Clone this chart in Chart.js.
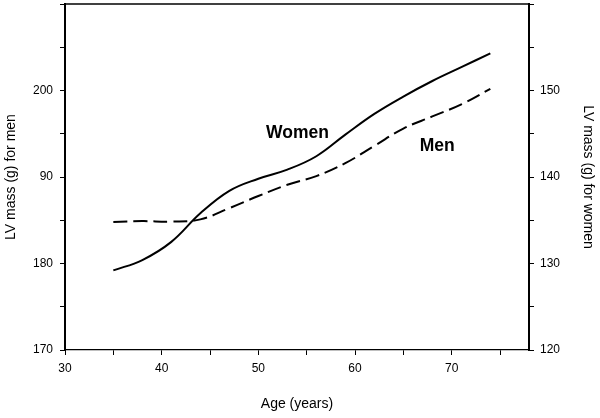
<!DOCTYPE html>
<html><head><meta charset="utf-8">
<script src="https://cdn.jsdelivr.net/npm/chart.js@4.4.1/dist/chart.umd.min.js"></script>
<style>html,body{margin:0;padding:0;background:#fff;} #wrap{width:600px;height:418px;}</style>
</head><body><div id="wrap"><canvas id="c" width="600" height="418"></canvas></div>
<script>
// ---- data ----
const ages = [35, 38, 41, 44, 47, 50, 53, 56, 59, 62, 65, 68, 71, 74];
const womenLV = [129.2, 130.4, 132.5, 135.8, 138.4, 139.8, 140.85, 142.4, 144.9, 147.3, 149.3, 151.1, 152.7, 154.3];
const menLV = [184.8, 184.9, 184.85, 185.1, 186.4, 187.8, 189.1, 190.1, 191.6, 193.6, 195.6, 197.0, 198.4, 200.2];
const xTickValues = [30, 40, 50, 60, 70];
const xTickLabels = ['30', '40', '50', '60', '70'];
const menTickValues = [170, 180, 190, 200];
const menTickLabels = ['170', '180', '90', '200'];
const womenTickValues = [120, 130, 140, 150];
const womenTickLabels = ['120', '130', '140', '150'];
const seriesNames = ['Women', 'Men'];
const noteAges = [50.8, 66.7];
const noteValues = [144.5, 192.95];

const FONT = "'Liberation Sans', Arial, Helvetica, sans-serif";
const INK = '#000';

function labelFrom(values, labels) {
  return v => { const i = values.indexOf(Math.round(v * 1000) / 1000); return i >= 0 ? labels[i] : ''; };
}
function noOverflow(s) { s.paddingTop = 0; s.paddingBottom = 0; s.paddingLeft = 0; s.paddingRight = 0; }

const frameAndNotes = {
  id: 'frameAndNotes',
  afterDatasetsDraw(chart) {
    const {ctx, chartArea, scales} = chart;
    ctx.save();
    ctx.strokeStyle = INK;
    ctx.lineWidth = 1.3;
    ctx.beginPath();
    ctx.moveTo(chartArea.left, chartArea.top);
    ctx.lineTo(chartArea.right, chartArea.top);
    ctx.stroke();
    ctx.fillStyle = INK;
    ctx.font = "bold 17.5px " + FONT;
    ctx.textAlign = 'left';
    ctx.textBaseline = 'alphabetic';
    const axisFor = [scales.yWomen, scales.yMen];
    seriesNames.forEach((name, i) => {
      ctx.fillText(name, scales.x.getPixelForValue(noteAges[i]), axisFor[i].getPixelForValue(noteValues[i]));
    });
    ctx.restore();
  }
};

new Chart(document.getElementById('c'), {
  type: 'line',
  data: {
    datasets: [
      {
        label: seriesNames[0],
        data: ages.map((a, i) => ({x: a, y: womenLV[i]})),
        yAxisID: 'yWomen',
        borderColor: INK, borderWidth: 2, pointRadius: 0, fill: false,
        tension: 0.4
      },
      {
        label: seriesNames[1],
        data: ages.map((a, i) => ({x: a, y: menLV[i]})),
        yAxisID: 'yMen',
        borderColor: INK, borderWidth: 2, pointRadius: 0, fill: false,
        borderDash: [14, 6],
        tension: 0.4
      }
    ]
  },
  options: {
    responsive: false,
    animation: false,
    devicePixelRatio: 1,
    layout: {padding: {top: 4, left: 0, right: 0, bottom: 0}},
    plugins: {legend: {display: false}, tooltip: {enabled: false}},
    scales: {
      x: {
        type: 'linear', position: 'bottom', min: 30, max: 78,
        afterBuildTicks: s => { s.ticks = s.ticks.filter(t => t.value % 5 === 0); },
        afterFit: s => { s.height = 68; noOverflow(s); },
        ticks: {stepSize: 5, autoSkip: false, maxRotation: 0, padding: 6, color: INK,
                font: {family: FONT, size: 12}, callback: labelFrom(xTickValues, xTickLabels)},
        grid: {drawOnChartArea: false, drawTicks: true, tickLength: 5, color: INK, lineWidth: 1},
        border: {display: true, color: INK, width: 1.3},
        title: {display: true, text: 'Age (years)', color: INK, font: {family: FONT, size: 14},
                padding: {top: 0, bottom: 5}}
      },
      yMen: {
        type: 'linear', position: 'left', min: 170, max: 210,
        afterFit: s => { s.width = 65; noOverflow(s); },
        ticks: {stepSize: 5, autoSkip: false, padding: 7, color: INK,
                font: {family: FONT, size: 12}, callback: labelFrom(menTickValues, menTickLabels)},
        grid: {drawOnChartArea: false, drawTicks: true, tickLength: 5, color: INK, lineWidth: 1},
        border: {display: true, color: INK, width: 2},
        title: {display: true, text: 'LV mass (g) for men', color: INK, font: {family: FONT, size: 14},
                padding: {top: 3, bottom: 0}}
      },
      yWomen: {
        type: 'linear', position: 'right', min: 120, max: 160,
        afterFit: s => { s.width = 71; noOverflow(s); },
        ticks: {stepSize: 5, autoSkip: false, padding: 6, color: INK,
                font: {family: FONT, size: 12}, callback: labelFrom(womenTickValues, womenTickLabels)},
        grid: {drawOnChartArea: false, drawTicks: true, tickLength: 5, color: INK, lineWidth: 1},
        border: {display: true, color: INK, width: 2},
        title: {display: true, text: 'LV mass (g) for women', color: INK, font: {family: FONT, size: 14},
                padding: {top: 4, bottom: 0}}
      }
    }
  },
  plugins: [frameAndNotes]
});
</script>
</body></html>
